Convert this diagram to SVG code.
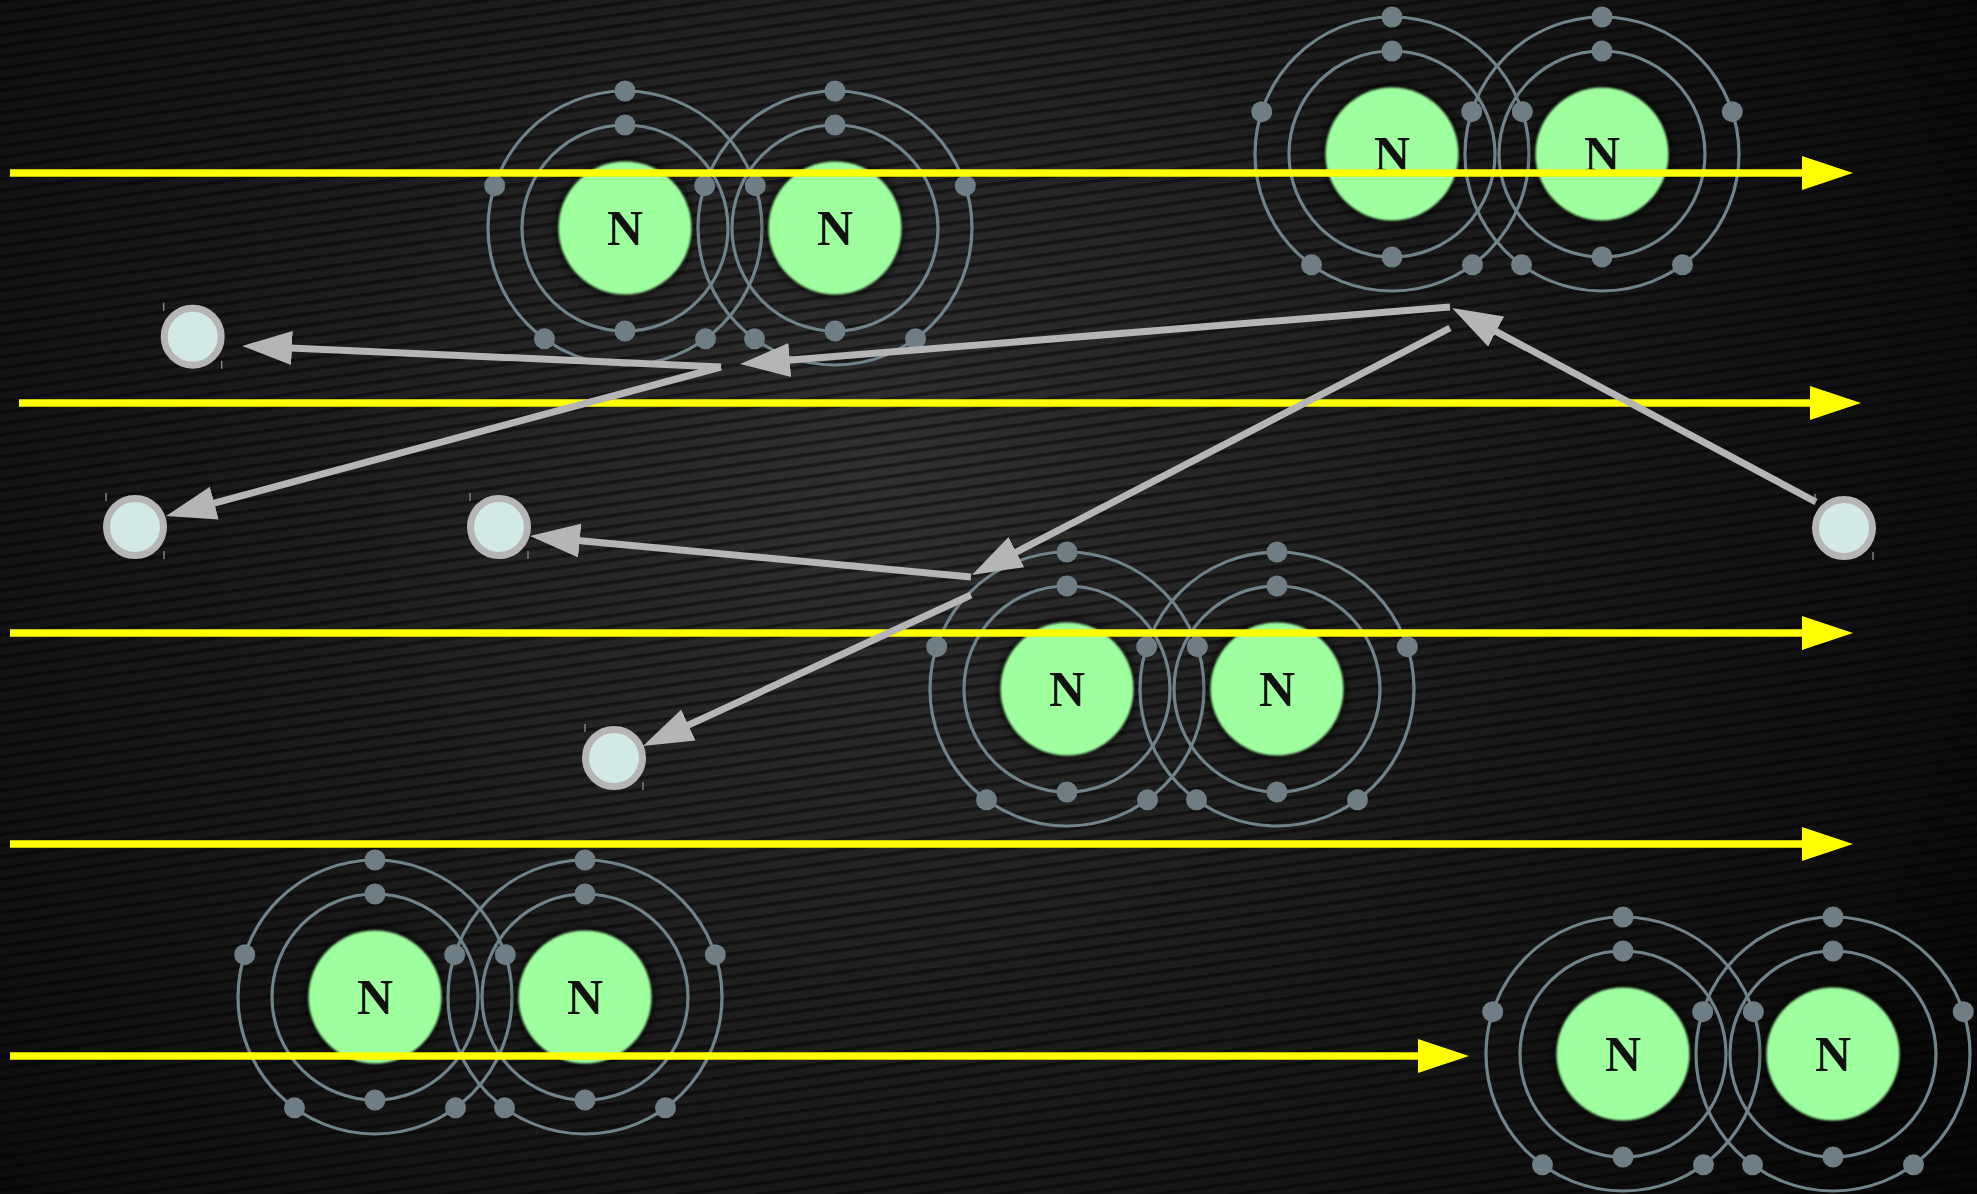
<svg xmlns="http://www.w3.org/2000/svg" xmlns:xlink="http://www.w3.org/1999/xlink" width="1977" height="1194" viewBox="0 0 1977 1194">
  <style>
    .shell { fill: none; stroke: #71838a; stroke-width: 3.2; }
    .e { fill: #6f7e85; }
    .nuc { fill: #9eff9e; }
    .sym { font-family: "Liberation Serif", "DejaVu Serif", serif; font-weight: bold; font-size: 50px; fill: #111; text-anchor: middle; }
    .beam { stroke: #ffff00; stroke-width: 7.5; fill: none; marker-end: url(#yhead); }
    .path { stroke: #b5b5b5; stroke-width: 7; fill: none; marker-end: url(#ghead); }
    .free { fill: #d2e9e6; stroke: #b5b5b5; stroke-width: 7; }
    .tick { stroke: #9a9a9a; stroke-width: 1.2; }
  </style>
  <defs>
    <radialGradient id="bg" cx="880" cy="470" r="1250" gradientUnits="userSpaceOnUse">
      <stop offset="0" stop-color="#303030"/>
      <stop offset="0.45" stop-color="#1d1d1d"/>
      <stop offset="1" stop-color="#080808"/>
    </radialGradient>
    <pattern id="stripes" width="400" height="11" patternUnits="userSpaceOnUse" patternTransform="rotate(-8)">
      <rect x="0" y="0" width="400" height="3.5" fill="#000" fill-opacity="0.45"/>
    </pattern>
    <filter id="soft" x="-20%" y="-20%" width="140%" height="140%">
      <feGaussianBlur stdDeviation="1.2"/>
    </filter>
    <filter id="halo" x="-30%" y="-30%" width="160%" height="160%">
      <feGaussianBlur stdDeviation="3"/>
    </filter>
    <marker id="yhead" markerUnits="userSpaceOnUse" markerWidth="52" markerHeight="36" refX="1" refY="17" orient="auto">
      <path d="M0,0 L51,17 L0,34 z" fill="#ffff00"/>
    </marker>
    <marker id="ghead" markerUnits="userSpaceOnUse" markerWidth="52" markerHeight="36" refX="2" refY="17" orient="auto">
      <path d="M0,0 L50,17 L0,34 z" fill="#b5b5b5"/>
    </marker>
    <!-- one nitrogen atom: two shells, 2 + 5 electrons, nucleus -->
    <g id="atom">
      <circle class="shell" r="103"/>
      <circle class="shell" r="137"/>
      <circle class="e" cx="0" cy="-103" r="10.5"/>
      <circle class="e" cx="0" cy="103" r="10.5"/>
      <circle class="e" cx="0" cy="-137" r="10.5"/>
      <circle class="e" cx="130.3" cy="-42.3" r="10.5"/>
      <circle class="e" cx="80.5" cy="110.8" r="10.5"/>
      <circle class="e" cx="-80.5" cy="110.8" r="10.5"/>
      <circle class="e" cx="-130.3" cy="-42.3" r="10.5"/>
      <circle r="71" fill="#000" fill-opacity="0.5" filter="url(#halo)"/>
      <circle class="nuc" r="66.5" filter="url(#soft)"/>
    </g>
    <!-- small free particle -->
    <g id="particle">
      <circle class="free" r="28.5"/>
      <line class="tick" x1="-29" y1="-34" x2="-29" y2="-26"/>
      <line class="tick" x1="29" y1="24" x2="29" y2="32"/>
    </g>
  </defs>

  <!-- backdrop -->
  <rect width="1977" height="1194" fill="url(#bg)"/>
  <rect width="1977" height="1194" fill="url(#stripes)"/>

  <!-- N2 molecules -->
  <g id="molecule-1">
    <use xlink:href="#atom" x="625" y="228"/>
    <use xlink:href="#atom" x="835" y="228"/>
    <text class="sym" x="625" y="245">N</text>
    <text class="sym" x="835" y="245">N</text>
  </g>
  <g id="molecule-2">
    <use xlink:href="#atom" x="1392" y="154"/>
    <use xlink:href="#atom" x="1602" y="154"/>
    <text class="sym" x="1392" y="171">N</text>
    <text class="sym" x="1602" y="171">N</text>
  </g>
  <g id="molecule-3">
    <use xlink:href="#atom" x="1067" y="689"/>
    <use xlink:href="#atom" x="1277" y="689"/>
    <text class="sym" x="1067" y="706">N</text>
    <text class="sym" x="1277" y="706">N</text>
  </g>
  <g id="molecule-4">
    <use xlink:href="#atom" x="375" y="997"/>
    <use xlink:href="#atom" x="585" y="997"/>
    <text class="sym" x="375" y="1014">N</text>
    <text class="sym" x="585" y="1014">N</text>
  </g>
  <g id="molecule-5">
    <use xlink:href="#atom" x="1623" y="1054"/>
    <use xlink:href="#atom" x="1833" y="1054"/>
    <text class="sym" x="1623" y="1071">N</text>
    <text class="sym" x="1833" y="1071">N</text>
  </g>

  <!-- horizontal beams -->
  <g id="beams">
    <line class="beam" x1="10" y1="173" x2="1803" y2="173"/>
    <line class="beam" x1="19" y1="403" x2="1811" y2="403"/>
    <line class="beam" x1="10" y1="633" x2="1803" y2="633"/>
    <line class="beam" x1="10" y1="844" x2="1803" y2="844"/>
    <line class="beam" x1="10" y1="1056" x2="1419" y2="1056"/>
  </g>

  <!-- particle paths -->
  <g id="connectors">
    <line class="path" x1="721" y1="367" x2="290" y2="348"/>
    <line class="path" x1="721" y1="367" x2="212.4" y2="503.6"/>
    <line class="path" x1="1450" y1="307" x2="787.8" y2="360.2"/>
    <line class="path" x1="1450" y1="328" x2="1014.6" y2="553"/>
    <line class="path" x1="1816" y1="502" x2="1494.4" y2="330.6"/>
    <line class="path" x1="971" y1="577" x2="577.8" y2="540.4"/>
    <line class="path" x1="971" y1="595" x2="686.6" y2="725.9"/>
  </g>

  <!-- free particles -->
  <g id="particle-1"><use xlink:href="#particle" x="192.7" y="336.7"/></g>
  <g id="particle-2"><use xlink:href="#particle" x="135" y="527"/></g>
  <g id="particle-3"><use xlink:href="#particle" x="499" y="527"/></g>
  <g id="particle-4"><use xlink:href="#particle" x="614" y="758"/></g>
  <g id="particle-5"><use xlink:href="#particle" x="1844" y="528"/></g>
</svg>
